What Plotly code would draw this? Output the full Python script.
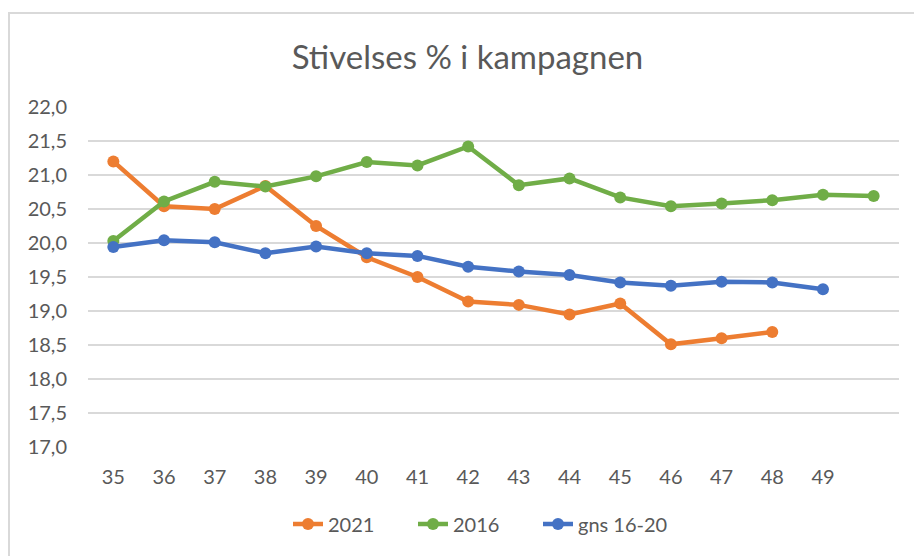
import plotly.graph_objects as go

weeks = [35, 36, 37, 38, 39, 40, 41, 42, 43, 44, 45, 46, 47, 48, 49, 50]
tick_weeks = [35, 36, 37, 38, 39, 40, 41, 42, 43, 44, 45, 46, 47, 48, 49]
tick_labels = ["35", "36", "37", "38", "39", "40", "41", "42", "43", "44", "45", "46", "47", "48", "49"]

s2021 = [21.20, 20.54, 20.50, 20.84, 20.25, 19.79, 19.50, 19.14, 19.09, 18.95, 19.11, 18.51, 18.60, 18.69]
s2016 = [20.03, 20.61, 20.90, 20.83, 20.98, 21.19, 21.14, 21.42, 20.85, 20.95, 20.67, 20.54, 20.58, 20.63, 20.71, 20.69]
sgns = [19.94, 20.04, 20.01, 19.85, 19.95, 19.85, 19.81, 19.65, 19.58, 19.53, 19.42, 19.37, 19.43, 19.42, 19.32]

y_ticks = [17.0, 17.5, 18.0, 18.5, 19.0, 19.5, 20.0, 20.5, 21.0, 21.5, 22.0]

series = [
    ("2021", s2021, "#ED7D31", "legend"),
    ("2016", s2016, "#70AD47", "legend2"),
    ("gns 16-20", sgns, "#4472C4", "legend3"),
]
legend_text_x = [330, 455, 580]

FONT = "Lato"
GREY = "#595959"

fig = go.Figure()
for name, vals, col, lg in series:
    fig.add_trace(go.Scatter(
        x=weeks[:len(vals)], y=vals, name=name, mode="lines+markers",
        line=dict(color=col, width=4.5),
        marker=dict(color=col, size=12),
        legend=lg,
    ))

W, H = 914, 556
L, R, T, B = 88, 15, 107, 109
pw = W - L - R
ph = H - T - B

legend_common = dict(orientation="h", yanchor="middle", y=(H - B - 524) / ph,
                     xanchor="left", font=dict(family=FONT, size=20, color=GREY),
                     bgcolor="rgba(0,0,0,0)")
legends = {}
for i, tx in enumerate(legend_text_x):
    key = "legend" if i == 0 else f"legend{i + 1}"
    legends[key] = dict(legend_common, x=(tx - 42 - L) / pw)

fig.update_layout(
    width=W, height=H,
    margin=dict(l=L, r=R, t=T, b=B, autoexpand=False),
    paper_bgcolor="white", plot_bgcolor="white",
    separators=", ",
    font=dict(family=FONT, color=GREY, size=20),
    title=dict(text="Stivelses % i kampagnen", x=467.5 / W, xref="container",
               xanchor="center", y=1 - 57 / H, yanchor="middle",
               font=dict(family=FONT, size=33, color=GREY)),
    showlegend=True,
    xaxis=dict(range=[34.5, 50.5], tickvals=tick_weeks, ticktext=tick_labels,
               showgrid=False, zeroline=False, showline=False, automargin=False,
               ticks="outside", ticklen=12, tickcolor="rgba(0,0,0,0)",
               tickfont=dict(family=FONT, size=20, color=GREY)),
    yaxis=dict(range=[17.0, 22.0], tickvals=y_ticks, tickformat=".1f",
               showgrid=True, gridcolor="#D9D9D9", gridwidth=1.5,
               zeroline=False, showline=False, automargin=False,
               ticks="outside", ticklen=16, tickcolor="rgba(0,0,0,0)",
               tickfont=dict(family=FONT, size=20, color=GREY)),
    shapes=[dict(type="rect", xref="paper", yref="paper",
                 x0=(9 - L) / pw, x1=1.2, y0=-0.5, y1=(H - B - 13) / ph,
                 line=dict(color="#D9D9D9", width=2), fillcolor="rgba(0,0,0,0)",
                 layer="below")],
    **legends,
)

fig.write_html("out.html", config={"displayModeBar": False},
               post_script="document.body.style.margin='0';")
